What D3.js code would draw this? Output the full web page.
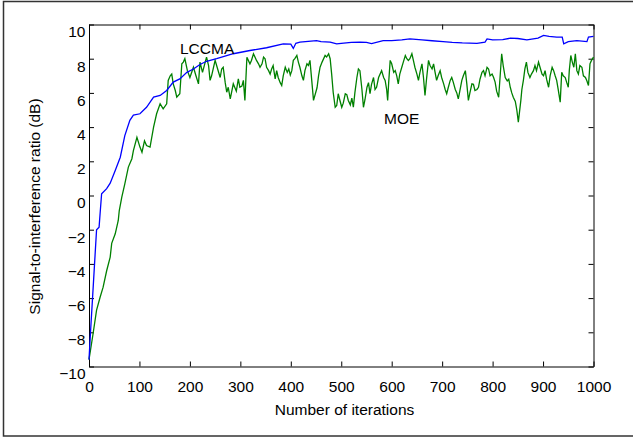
<!DOCTYPE html>
<html>
<head>
<meta charset="utf-8">
<script src="https://cdn.jsdelivr.net/npm/d3@7"></script>
<style>
  body { margin: 0; background: #fff; }
  text { font-family: "Liberation Sans", Arial, sans-serif; }
</style>
</head>
<body>
<div id="chartDiv"></div>
<script>
// LCCMA curve (blue)
var lccmaIter = [0, 3, 7, 11, 15, 20, 22, 25, 35, 42, 52, 62, 71, 81, 88, 101, 114, 128, 141, 154,
    167, 180, 194, 207, 220, 233, 253, 286, 319, 352, 385, 400, 405, 410, 418, 451, 460, 478, 491, 500,
    520, 537, 550, 560, 583, 600, 620, 636, 660, 680, 702, 720, 740, 769, 785, 789, 800, 820, 835, 850,
    868, 890, 901, 912, 927, 938, 941, 950, 967, 987, 990, 1000];
var lccmaSir = [-9.6, -8.0, -6.0, -4.0, -2.0, -1.85, -1.05, 0.1, 0.4, 0.72, 1.46, 2.24, 3.5, 4.4, 4.7, 4.78, 5.16, 5.75, 5.85, 6.14,
    6.63, 6.82, 7.2, 7.4, 7.66, 7.85, 8.0, 8.29, 8.48, 8.64, 8.87, 8.85, 8.6, 8.9, 8.97, 9.06, 9.0, 8.97, 8.87, 8.9,
    8.95, 8.97, 8.95, 8.88, 9.06, 9.06, 9.1, 9.16, 9.1, 9.05, 9.0, 8.95, 8.92, 8.9, 8.97, 9.16, 9.1, 9.12, 9.2, 9.18,
    9.1, 9.2, 9.36, 9.3, 9.26, 9.26, 8.87, 9.0, 9.06, 9.0, 9.26, 9.3];

// MOE curve (green)
var moeIter = [0, 8, 15, 22, 28, 35, 42, 45, 52, 58, 60, 65, 71, 78, 85, 88, 95, 101, 105, 110,
    114, 121, 128, 134, 141, 147, 154, 157, 161, 164, 167, 171, 174, 180, 184, 187, 190, 195, 200, 207,
    212, 217, 220, 225, 233, 237, 240, 243, 250, 255, 260, 263, 266, 270, 273, 276, 280, 286, 292, 296,
    299, 303, 306, 309, 313, 319, 322, 326, 332, 336, 339, 343, 346, 349, 352, 356, 359, 362, 365, 369,
    372, 375, 379, 382, 385, 389, 393, 396, 399, 402, 405, 408, 412, 415, 418, 422, 425, 428, 432, 435,
    438, 445, 452, 455, 458, 462, 468, 471, 475, 478, 481, 484, 488, 491, 494, 497, 501, 504, 508, 511,
    514, 518, 521, 524, 527, 531, 534, 537, 541, 544, 547, 551, 554, 557, 560, 564, 567, 570, 574, 580,
    584, 587, 590, 592, 594, 597, 600, 604, 607, 610, 613, 616, 620, 623, 627, 630, 633, 636, 640, 643,
    646, 650, 653, 656, 660, 663, 666, 669, 673, 676, 680, 683, 686, 689, 692, 696, 699, 703, 706, 709,
    712, 716, 719, 722, 726, 729, 732, 735, 739, 742, 746, 749, 752, 755, 759, 762, 765, 769, 772, 775,
    779, 782, 785, 789, 792, 795, 799, 802, 805, 808, 812, 815, 818, 821, 825, 829, 832, 835, 838, 841,
    845, 848, 851, 853, 856, 858, 861, 864, 867, 870, 874, 877, 881, 884, 887, 891, 894, 898, 901, 904,
    907, 911, 914, 918, 921, 924, 927, 930, 934, 937, 940, 944, 947, 950, 952, 955, 958, 961, 964, 967,
    970, 973, 977, 980, 984, 987, 990, 993, 996, 1000];
var moeSir = [-9.6, -8.1, -6.7, -5.95, -5.36, -4.4, -3.6, -2.8, -2.24, -1.46, -0.88, -0.1, 0.68, 1.66, 2.15, 2.63, 3.4, 2.83, 2.53, 3.2,
    2.92, 2.83, 4.0, 4.78, 5.36, 5.07, 5.36, 6.73, 7.0, 7.1, 6.53, 6.14, 5.75, 5.95, 7.7, 7.8, 8.0, 7.3, 6.9, 7.5,
    7.0, 6.53, 7.8, 7.2, 8.09, 7.6, 6.73, 7.0, 7.9, 7.4, 6.9, 7.4, 7.5, 6.6, 6.04, 6.33, 5.65, 6.53, 6.1, 6.82,
    6.33, 6.4, 6.73, 5.56, 8.09, 7.7, 7.9, 8.29, 7.9, 7.7, 7.5, 7.7, 8.09, 8.0, 7.5, 7.3, 7.1, 7.4, 7.6, 6.82,
    7.3, 6.9, 6.6, 6.43, 7.0, 7.5, 7.2, 7.4, 7.05, 7.3, 7.9, 8.0, 8.19, 7.8, 7.5, 7.0, 6.73, 7.3, 7.7, 7.6,
    7.9, 5.56, 6.3, 7.0, 7.5, 7.8, 8.19, 8.1, 8.29, 8.0, 7.1, 6.04, 5.16, 5.26, 5.95, 5.6, 5.16, 5.4, 5.95, 5.9,
    5.56, 5.3, 5.7, 5.16, 6.0, 6.9, 7.4, 7.3, 6.2, 5.16, 5.6, 6.33, 6.6, 5.95, 6.5, 6.9, 6.2, 6.33, 6.9, 7.3,
    6.9, 6.73, 6.2, 5.56, 6.6, 7.9, 7.7, 7.2, 7.3, 7.0, 6.53, 7.1, 7.5, 7.8, 8.19, 8.0, 7.9, 8.0, 8.29, 7.9,
    7.5, 7.1, 6.73, 7.2, 7.7, 6.9, 5.85, 6.8, 7.9, 7.6, 7.4, 7.7, 7.2, 6.73, 7.0, 7.3, 6.9, 6.53, 6.2, 5.95,
    6.3, 6.73, 6.9, 6.63, 6.2, 6.0, 5.65, 6.1, 6.73, 7.0, 7.3, 6.5, 5.56, 6.0, 6.53, 6.5, 6.14, 6.2, 6.33, 6.8,
    7.2, 7.3, 7.0, 7.5, 7.4, 7.0, 7.1, 6.9, 6.63, 6.1, 5.75, 7.0, 8.29, 7.6, 6.9, 6.7, 6.8, 6.33, 6.0, 5.75,
    5.5, 5.0, 4.29, 4.8, 5.56, 6.2, 6.73, 7.4, 7.8, 7.2, 6.9, 7.1, 7.3, 7.6, 7.3, 7.8, 7.5, 7.1, 7.0, 7.3,
    6.8, 6.33, 7.0, 7.5, 7.3, 7.0, 6.73, 6.2, 5.46, 7.2, 7.0, 6.9, 6.6, 6.33, 7.3, 8.19, 7.8, 7.5, 8.29, 7.3,
    7.1, 7.6, 7.5, 7.0, 6.9, 6.7, 6.43, 7.7, 7.9, 8.09];

var xTicks = [0, 100, 200, 300, 400, 500, 600, 700, 800, 900, 1000];
var yTicks = [-10, -8, -6, -4, -2, 0, 2, 4, 6, 8, 10];

var width = 633, height = 439;

var svg = d3.select('#chartDiv')
    .append('svg')
    .attr('width', width)
    .attr('height', height);

// outer frame (right side runs off the picture)
svg.append('rect')
    .attr('x', 3.5)
    .attr('y', 1.5)
    .attr('width', 640)
    .attr('height', 434.5)
    .attr('fill', 'none')
    .attr('stroke', '#333')
    .attr('stroke-width', 1.5);

var x = d3.scaleLinear().domain([0, 1000]).range([89, 593.5]);
var y = d3.scaleLinear().domain([-10, 10]).range([366.5, 24.5]);

var fontSize = '15.5px';

// bottom axis
svg.append('g')
    .attr('transform', 'translate(0,' + y(-10) + ')')
    .call(d3.axisBottom(x).tickValues(xTicks).tickFormat(d3.format('d'))
        .tickSizeInner(-5).tickSizeOuter(0).tickPadding(14));

// left axis
var gy = svg.append('g')
    .attr('transform', 'translate(' + x(0) + ',0)')
    .call(d3.axisLeft(y).tickValues(yTicks).tickFormat(d3.format('d'))
        .tickSizeInner(-5).tickSizeOuter(0).tickPadding(3.5));
gy.selectAll('text').attr('transform', 'translate(0,7.5)');

// top and right axes, ticks only
svg.append('g')
    .attr('transform', 'translate(0,' + y(10) + ')')
    .call(d3.axisTop(x).tickValues(xTicks).tickSizeInner(-5).tickSizeOuter(0).tickFormat(''));
svg.append('g')
    .attr('transform', 'translate(' + x(1000) + ',0)')
    .call(d3.axisRight(y).tickValues(yTicks).tickSizeInner(-5).tickSizeOuter(0).tickFormat(''));

svg.selectAll('.tick text')
    .attr('font-size', fontSize)
    .attr('font-family', '"Liberation Sans", Arial, sans-serif')
    .attr('fill', '#000');
svg.selectAll('.domain, .tick line')
    .attr('stroke', '#000')
    .attr('stroke-width', 1);

// curves
var lineGen = d3.line()
    .x(function(d) { return x(d[0]); })
    .y(function(d) { return y(d[1]); });

var lccmaData = lccmaIter.map(function(v, i) { return [v, lccmaSir[i]]; });
var moeData = moeIter.map(function(v, i) { return [v, moeSir[i]]; });

svg.append('path')
    .datum(moeData)
    .attr('d', lineGen)
    .attr('fill', 'none')
    .attr('stroke', '#008000')
    .attr('stroke-width', 1.3);

svg.append('path')
    .datum(lccmaData)
    .attr('d', lineGen)
    .attr('fill', 'none')
    .attr('stroke', '#0000ff')
    .attr('stroke-width', 1.3);

// curve labels
svg.append('text')
    .attr('x', 180)
    .attr('y', 54)
    .attr('font-size', fontSize)
    .text('LCCMA');

svg.append('text')
    .attr('x', 384)
    .attr('y', 124)
    .attr('font-size', fontSize)
    .text('MOE');

// axis titles
svg.append('text')
    .attr('x', 344.5)
    .attr('y', 415)
    .attr('text-anchor', 'middle')
    .attr('font-size', fontSize)
    .text('Number of iterations');

svg.append('text')
    .attr('transform', 'translate(40,206.5) rotate(-90)')
    .attr('text-anchor', 'middle')
    .attr('font-size', fontSize)
    .text('Signal-to-interference ratio (dB)');
</script>
</body>
</html>
